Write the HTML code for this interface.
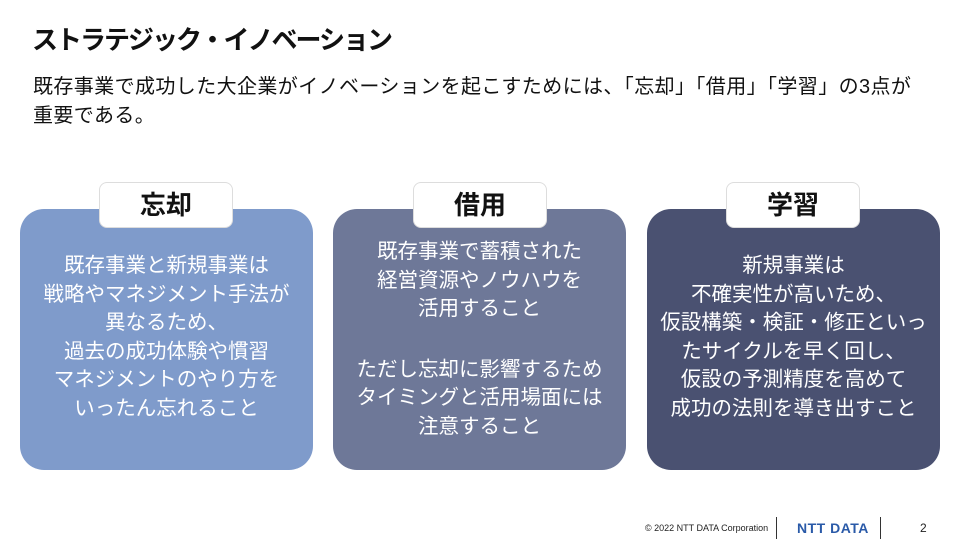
<!DOCTYPE html>
<html><head><meta charset="utf-8">
<style>
body{margin:0;width:960px;height:540px;background:#fff;position:relative;overflow:hidden;font-family:"Liberation Sans","Noto Sans CJK JP",sans-serif;color:#111}
.t{position:absolute;left:32px;top:20px;font-size:26px;font-weight:bold;letter-spacing:-2px}
.s{position:absolute;left:33px;top:73px;font-size:20px;line-height:29px;width:910px;letter-spacing:0.4px}
.box{position:absolute;top:209px;width:293px;height:261px;border-radius:24px;color:#fff;font-size:20.5px;text-align:center;line-height:28.6px;box-sizing:border-box}
.tab{position:absolute;top:182px;width:134px;height:46px;background:#fff;border:1px solid #ddd;border-radius:8px;box-sizing:border-box;text-align:center;font-size:26px;font-weight:bold;line-height:44px;color:#111}
.f{position:absolute;font-size:9px;color:#222}
.bar{position:absolute;top:517px;width:1px;height:22px;background:#333}
</style></head><body>
<div class="t">ストラテジック・イノベーション</div>
<div class="s">既存事業で成功した大企業がイノベーションを起こすためには、「忘却」「借用」「学習」の3点が<br>重要である。</div>

<div class="box" style="left:20px;background:#7f9bcb;padding-top:43px">既存事業と新規事業は<br>戦略やマネジメント手法が<br>異なるため、<br>過去の成功体験や慣習<br>マネジメントのやり方を<br>いったん忘れること</div>
<div class="box" style="left:333px;background:#6e7898;padding-top:29px">既存事業で蓄積された<br>経営資源やノウハウを<br>活用すること<br><div style="height:32px"></div>ただし忘却に影響するため<br>タイミングと活用場面には<br>注意すること</div>
<div class="box" style="left:647px;background:#4a5171;padding-top:43px">新規事業は<br>不確実性が高いため、<br>仮設構築・検証・修正といっ<br>たサイクルを早く回し、<br>仮設の予測精度を高めて<br>成功の法則を導き出すこと</div>

<div class="tab" style="left:99px">忘却</div>
<div class="tab" style="left:413px">借用</div>
<div class="tab" style="left:726px">学習</div>

<div class="f" style="left:645px;top:523px">© 2022 NTT DATA Corporation</div>
<div class="bar" style="left:776px"></div>
<div style="position:absolute;left:797px;top:520px;font-size:14px;font-weight:bold;color:#2a5aa8;letter-spacing:0.5px">NTT DATA</div>
<div class="bar" style="left:880px"></div>
<div style="position:absolute;left:920px;top:521px;font-size:12px;color:#222">2</div>
</body></html>
